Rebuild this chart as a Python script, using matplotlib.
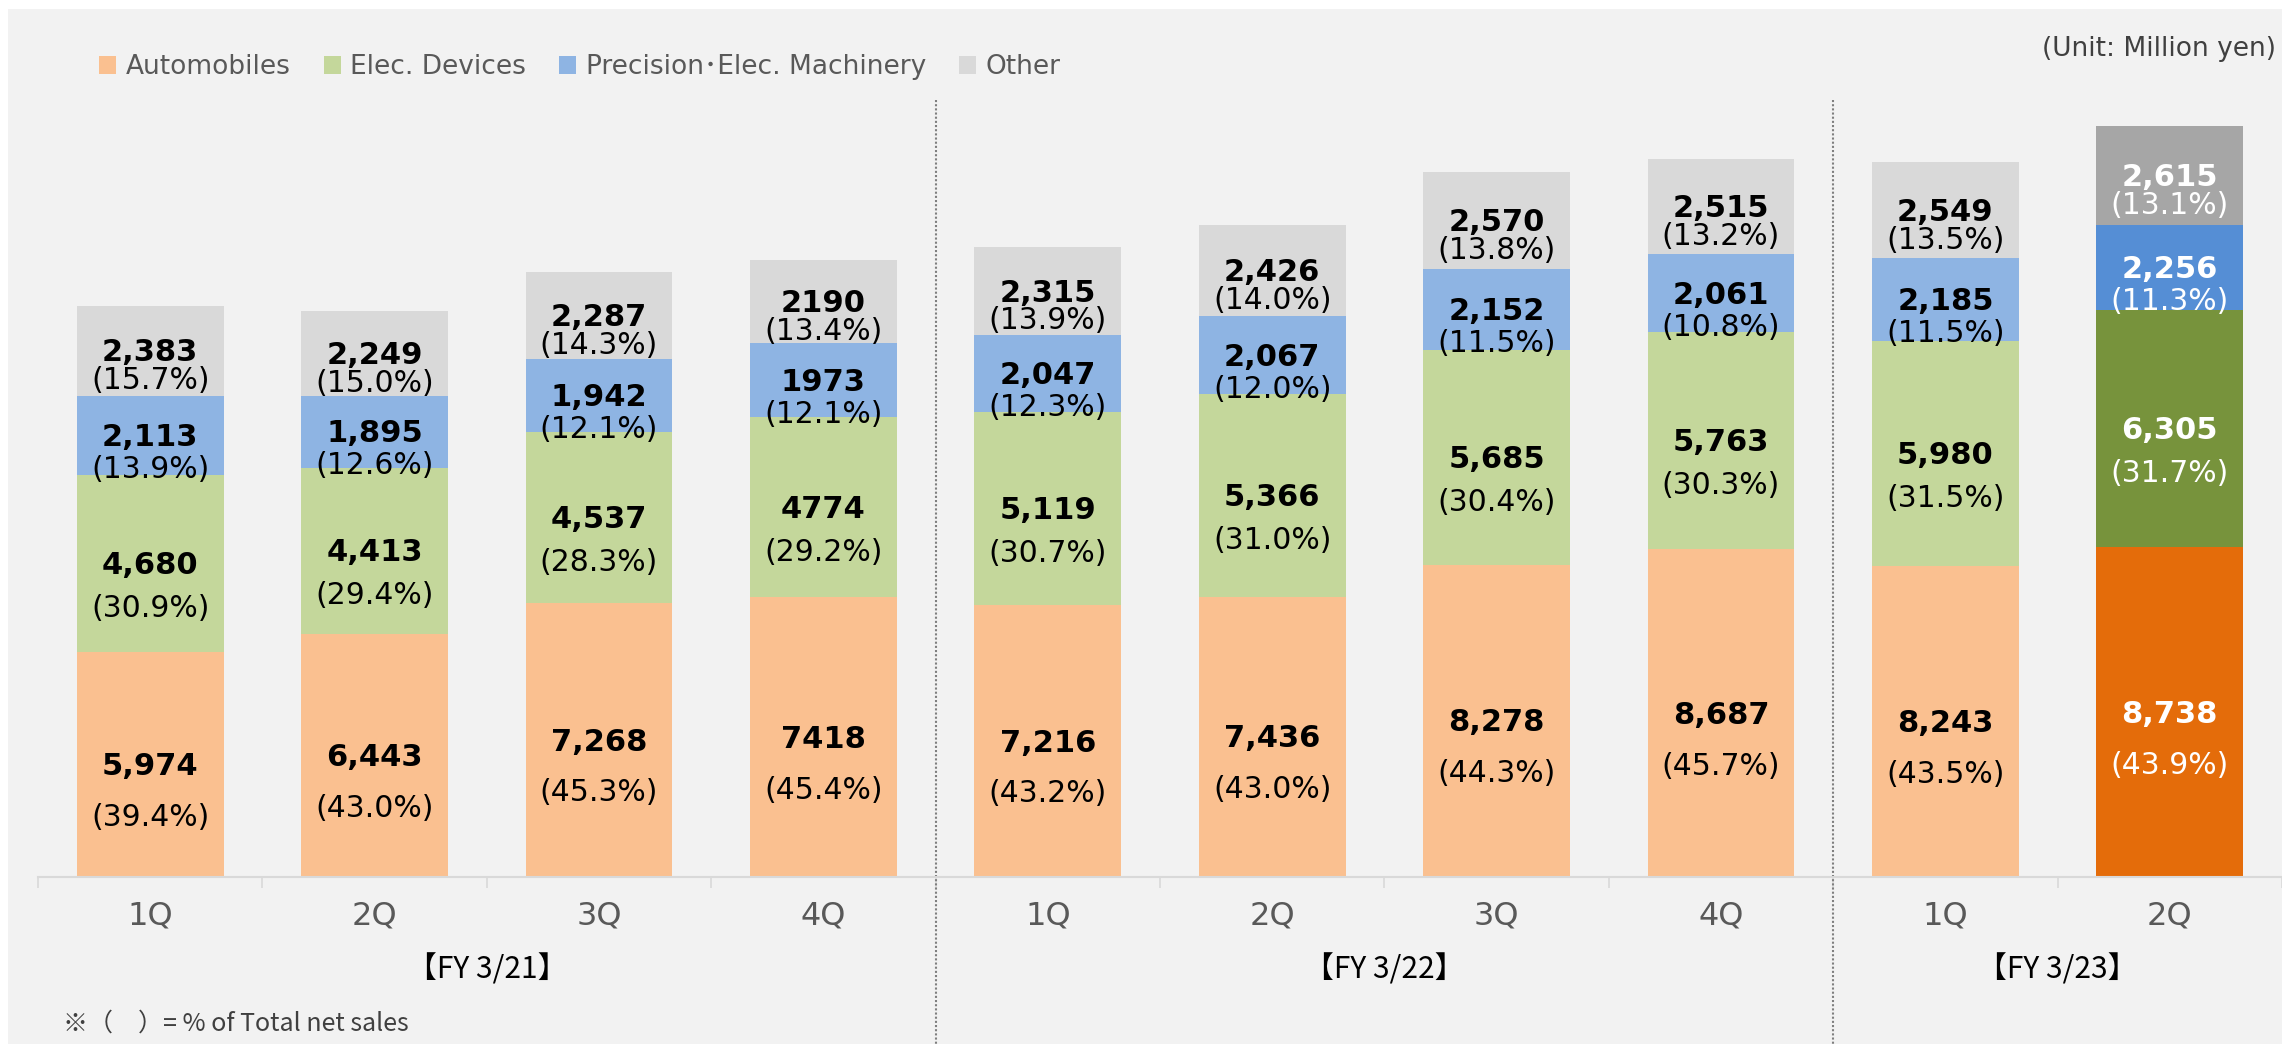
import matplotlib.pyplot as plt
import numpy as np
from matplotlib.patches import Rectangle

# Data
quarters = ["1Q", "2Q", "3Q", "4Q", "1Q", "2Q", "3Q", "4Q", "1Q", "2Q"]
fiscal_years = ["【FY 3/21】", "【FY 3/22】", "【FY 3/23】"]
fy_sizes = [4, 4, 2]

automobiles = [5974, 6443, 7268, 7418, 7216, 7436, 8278, 8687, 8243, 8738]
elec_devices = [4680, 4413, 4537, 4774, 5119, 5366, 5685, 5763, 5980, 6305]
precision = [2113, 1895, 1942, 1973, 2047, 2067, 2152, 2061, 2185, 2256]
other = [2383, 2249, 2287, 2190, 2315, 2426, 2570, 2515, 2549, 2615]

auto_pct = [39.4, 43.0, 45.3, 45.4, 43.2, 43.0, 44.3, 45.7, 43.5, 43.9]
elec_pct = [30.9, 29.4, 28.3, 29.2, 30.7, 31.0, 30.4, 30.3, 31.5, 31.7]
prec_pct = [13.9, 12.6, 12.1, 12.1, 12.3, 12.0, 11.5, 10.8, 11.5, 11.3]
other_pct = [15.7, 15.0, 14.3, 13.4, 13.9, 14.0, 13.8, 13.2, 13.5, 13.1]

# labels printed without thousands separator in the source (4Q FY 3/21)
no_comma = {3}

series = [
    ("Automobiles", automobiles, auto_pct, "#FAC090", "#E46C0A", 53),
    ("Elec. Devices", elec_devices, elec_pct, "#C4D79B", "#77933C", 45),
    ("Precision\uff65Elec. Machinery", precision, prec_pct, "#8EB4E3", "#558ED5", 34),
    ("Other", other, other_pct, "#D9D9D9", "#A6A6A6", 30),
]
highlight = 9  # latest quarter drawn in darker colours

W, H = 2282, 1044
fig = plt.figure(figsize=(W / 100, H / 100), dpi=100)
fig.patch.set_facecolor("white")
fig.patches.append(Rectangle((8 / W, 0), 1, 1 - 9 / H, transform=fig.transFigure,
                             facecolor="#F2F2F2", edgecolor="none", zorder=-10))

base_px, top_px, left_px = 877, 100, 38
ax = fig.add_axes([left_px / W, 1 - base_px / H, (W - left_px) / W, (base_px - top_px) / H])
ax.set_facecolor("none")

x = np.arange(len(quarters))
px_per_unit = 751 / 19914
ax.set_xlim(-0.5, 9.49)
ax.set_ylim(0, (base_px - top_px) / px_per_unit)

bottom = np.zeros(len(x))
handles = []
for name, vals, pcts, col, dark, off_px in series:
    vals = np.array(vals)
    colors = [dark if i == highlight else col for i in range(len(x))]
    bars = ax.bar(x, vals, bottom=bottom, width=0.655, color=colors, label=name,
                  linewidth=0)
    handles.append(bars)
    for i in range(len(x)):
        yc = bottom[i] + vals[i] / 2
        tc = "white" if i == highlight else "black"
        txt = str(vals[i]) if i in no_comma else f"{vals[i]:,}"
        ax.annotate(txt, (x[i], yc), xytext=(0, -1.5), textcoords="offset points",
                    ha="center", va="center", fontsize=22, fontweight="bold", color=tc)
        ax.annotate(f"({pcts[i]:.1f}%)", (x[i], yc), xytext=(0, -off_px * 0.72),
                    textcoords="offset points", ha="center", va="center",
                    fontsize=21.5, color=tc)
    bottom += vals

# Axes styling
for s in ["top", "left", "right"]:
    ax.spines[s].set_visible(False)
ax.spines["bottom"].set_color("#D9D9D9")
ax.spines["bottom"].set_linewidth(1.5)
ax.set_yticks([])
ax.set_xticks(x)
ax.set_xticklabels(quarters, fontsize=23, color="#595959")
ax.tick_params(axis="x", which="major", length=0, pad=17)
ax.set_xticks(np.arange(-0.5, 9.6, 1), minor=True)
ax.tick_params(axis="x", which="minor", length=8, width=1.2, color="#D9D9D9")

# fiscal year group labels and dotted separators
trans = ax.get_xaxis_transform()
start = 0
for fy, n in zip(fiscal_years, fy_sizes):
    ax.text(start + (n - 1) / 2, (base_px - 970) / (base_px - top_px), fy,
            transform=trans, ha="center", va="center", fontsize=21.5,
            family=["Noto Sans CJK JP", "DejaVu Sans"], color="black")
    if start + n < len(x):
        ax.plot([start + n - 0.5] * 2, [1.0, (base_px - H) / (base_px - top_px)],
                transform=trans, clip_on=False, color="#7F7F7F", lw=1.5,
                linestyle=(0, (1, 1)))
    start += n

# Legend at top
fig.legend(handles=handles, loc="center left", bbox_to_anchor=(99 / W, 1 - 67 / H),
           ncol=4, frameon=False, borderpad=0, borderaxespad=0,
           handlelength=0.66, handleheight=0.66, handletextpad=0.35,
           columnspacing=1.25, labelcolor="#595959",
           prop={"family": ["DejaVu Sans", "Noto Sans CJK JP"], "size": 19})

fig.text(2276 / W, 1 - 49 / H, "(Unit: Million yen)", fontsize=19, color="#404040",
         ha="right", va="center")
fig.text(63 / W, 1 - 1024 / H, "※（\u3000）= % of Total net sales", fontsize=18,
         color="#404040", ha="left", va="center",
         family=["Noto Sans CJK JP", "DejaVu Sans"])

fig.savefig("out.png", dpi=100)
